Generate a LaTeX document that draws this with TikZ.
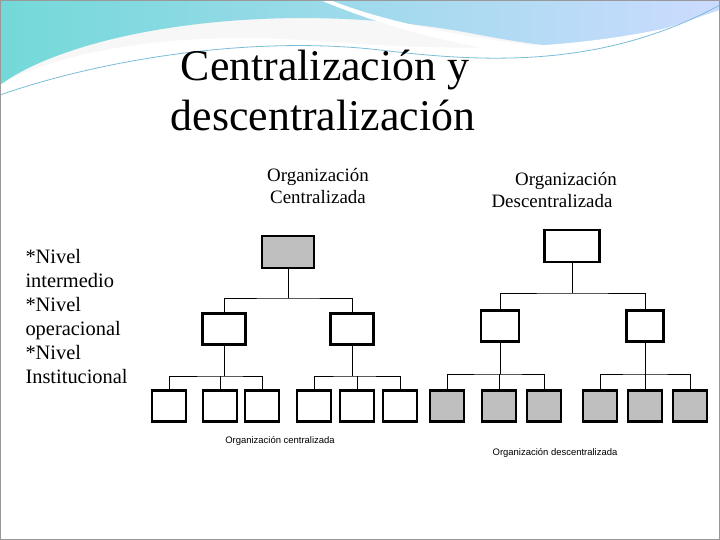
\documentclass[tikz,border=0pt]{standalone}
\usepackage{fontspec}
\setmainfont{Liberation Serif}
\newfontfamily\smallsans{Liberation Sans}
\begin{document}
\begin{tikzpicture}[x=1bp,y=-1bp,
  bx/.style={draw=black,line width=2.2bp,minimum width=34bp,minimum height=31bp,inner sep=0pt,fill=white},
  gbx/.style={bx,fill=black!25},
  ln/.style={draw=black,line width=0.6bp},
  lab/.style={font=\fontsize{19}{22}\selectfont,align=center},
  tiny/.style={font=\smallsans\fontsize{9.5}{11}\selectfont}]
\useasboundingbox (0,0) rectangle (720,540);
\fill[black!3] (0,0) rectangle (720,540);
% top wave
\shade[left color=cyan!45!teal!55, right color=cyan!30!blue!20] (0,0) -- (720,0) -- (720,20) .. controls (640,60) and (560,50) .. (480,35) .. controls (380,15) and (250,10) .. (130,35) .. controls (60,50) and (20,70) .. (0,85) -- cycle;
\fill[white] (330,0) .. controls (380,20) and (450,35) .. (530,45) .. controls (600,55) and (660,30) .. (720,10) -- (720,18) .. controls (660,45) and (600,62) .. (530,55) .. controls (450,45) and (380,25) .. (320,0) -- cycle;
\fill[white] (0,85) .. controls (40,60) and (150,30) .. (300,40) .. controls (420,48) and (560,60) .. (720,15) -- (720,540) -- (0,540) -- cycle;
\draw[cyan!50!teal!60,line width=0.8bp] (0,95) .. controls (100,60) and (250,35) .. (380,50) .. controls (480,62) and (600,70) .. (720,5);
\draw[black!40,line width=0.6bp] (0.5,0.5) rectangle (719.5,539.5);
% titles
\node[font=\fontsize{44}{46}\selectfont] (t1) at (325,70) {Centralización y};
\node[font=\fontsize{44}{46}\selectfont] (t2) at (323,115) {descentralización};
\node[lab] (lc) at (318,186) {Organización\\Centralizada};
\node[lab] (ld) at (552,190) {\hspace*{28bp}Organización\\Descentralizada};
\node[lab,align=left,anchor=north west,font=\fontsize{20.5}{24}\selectfont] (lv) at (22,246) {*Nivel\\intermedio\\*Nivel\\operacional\\*Nivel\\Institucional};
% left tree
\node[gbx,minimum width=52bp,minimum height=32bp] (a) at (288,252) {};
\node[bx,minimum width=43bp] (a1) at (224,329) {};
\node[bx,minimum width=43bp] (a2) at (352,329) {};
\foreach \n/\x in {1/169,2/220,3/262,4/314,5/357,6/400}{\node[bx] (al\n) at (\x,406) {};}
\coordinate (ab) at (288,298);
\draw[ln] (a) -- (ab) (a1.north) |- (ab) -| (a2.north);
\draw[ln] (a1) -- (a1|-0,376) (a2) -- (a2|-0,376);
\draw[ln] (al1.north) |- (a1|-0,376) -| (al3.north) (al2.north) -- (al2|-0,376);
\draw[ln] (al4.north) |- (a2|-0,376) -| (al6.north) (al5.north) -- (al5|-0,376);
% right tree
\node[bx,minimum width=55bp,minimum height=32bp] (b) at (572,246) {};
\node[bx,minimum width=38bp] (b1) at (500,326) {};
\node[bx,minimum width=37bp] (b2) at (645,326) {};
\foreach \n/\x in {1/447,2/499,3/544,4/600,5/645,6/690}{\node[gbx] (bl\n) at (\x,406) {};}
\coordinate (bb) at (572,293);
\draw[ln] (b) -- (bb) (b1.north) |- (bb) -| (b2.north);
\draw[ln] (b1) -- (b1|-0,374) (b2) -- (b2|-0,374);
\draw[ln] (bl1.north) |- (b1|-0,374) -| (bl3.north) (bl2.north) -- (bl2|-0,374);
\draw[ln] (bl4.north) |- (b2|-0,374) -| (bl6.north) (bl5.north) -- (bl5|-0,374);
\node[tiny] (c1) at (280,441) {Organización centralizada};
\node[tiny] (c2) at (555,453) {Organización descentralizada};
\end{tikzpicture}
\end{document}
